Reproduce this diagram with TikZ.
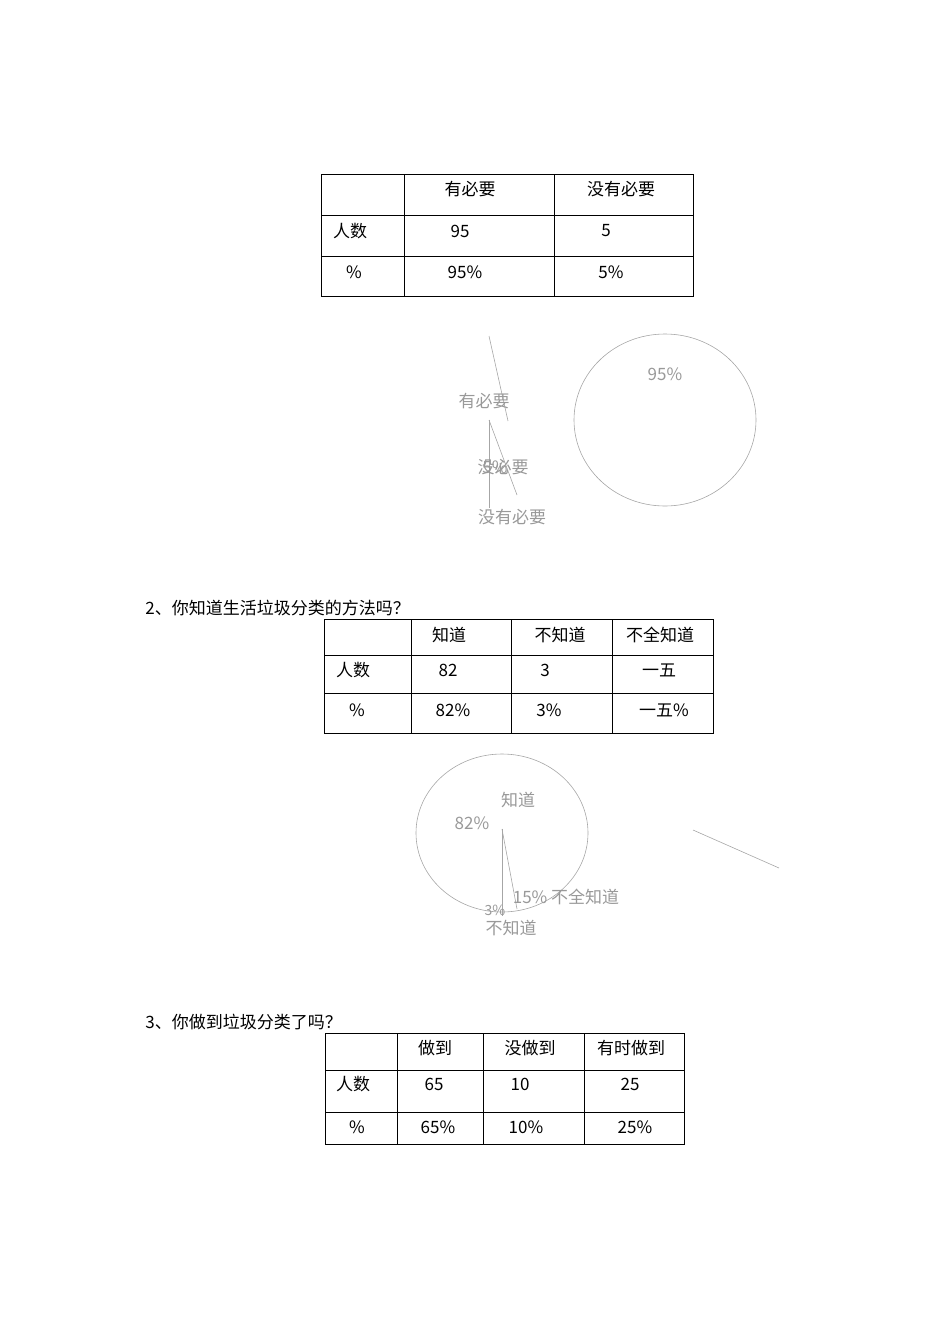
\documentclass[tikz,border=0pt]{standalone}
\usepackage{fontspec}
\newfontfamily\cjk{Noto Sans CJK SC}
\tikzset{t/.style={font=\cjk\fontsize{17}{17}\selectfont,inner sep=0pt},
g/.style={font=\cjk\fontsize{17}{17}\selectfont,inner sep=0pt,text=gray!80},
gl/.style={draw=gray!70,line width=0.6pt}}
\begin{document}
\begin{tikzpicture}[x=1pt,y=-1pt,line width=0.8pt]
\useasboundingbox (0,0) rectangle (950,1344);
% table 1
\draw (321,174) rectangle (693,296);
\foreach \x in {404,554} \draw (\x,174)--(\x,296);
\foreach \y in {215,256} \draw (321,\y)--(693,\y);
\node[t] (a1) at (470,189) {有必要};
\node[t] (a2) at (621,189) {没有必要};
\node[t] (a3) at (350,231) {人数};
\node[t] (a4) at (460,231) {95};
\node[t] (a5) at (606,231) {5};
\node[t] (a6) at (354,272) {\%};
\node[t] (a7) at (465,272) {95\%};
\node[t] (a8) at (611,272) {5\%};
% pie 1
\draw[gl] (665,420) ellipse (91 and 86);
\coordinate (p1) at (489,336); \coordinate (p2) at (508,421);
\coordinate (p3) at (489,420); \coordinate (p4) at (489,508); \coordinate (p5) at (517,495);
\draw[gl] (p1)--(p2); \draw[gl] (p3)--(p4); \draw[gl] (p3)--(p5);
\node[g] (b1) at (665,374) {95\%};
\node[g] (b2) at (484,401) {有必要};
\node[g] (b3) at (503,467) {没必要};
\node[g] (b4) at (495,467) {5\%};
\node[g] (b5) at (512,517) {没有必要};
% q2
\node[t,anchor=west] (q2) at (145,608) {2、你知道生活垃圾分类的方法吗？};
\draw (324,619) rectangle (713,733);
\foreach \x in {411,511,612} \draw (\x,619)--(\x,733);
\foreach \y in {655,693} \draw (324,\y)--(713,\y);
\node[t] (c1) at (449,635) {知道};
\node[t] (c2) at (560,635) {不知道};
\node[t] (c3) at (660,635) {不全知道};
\node[t] (c4) at (353,670) {人数};
\node[t] (c5) at (448,670) {82};
\node[t] (c6) at (545,670) {3};
\node[t] (c7) at (659,670) {一五};
\node[t] (c8) at (357,710) {\%};
\node[t] (c9) at (453,710) {82\%};
\node[t] (c10) at (549,710) {3\%};
\node[t] (c11) at (664,710) {一五\%};
% pie 2
\draw[gl] (502,833) ellipse (86 and 79);
\coordinate (r1) at (502,829); \coordinate (r2) at (502,916); \coordinate (r3) at (517,909);
\draw[gl] (r1)--(r2); \draw[gl] (r1)--(r3);
\coordinate (s1) at (693,830); \coordinate (s2) at (779,868);
\draw[gl] (s1)--(s2);
\node[g] (d1) at (518,800) {知道};
\node[g] (d2) at (472,823) {82\%};
\node[g] (d3) at (566,897) {15\%\ 不全知道};
\node[g,font=\cjk\fontsize{14}{14}\selectfont] (d4) at (495,910) {3\%};
\node[g] (d5) at (511,928) {不知道};
% q3
\node[t,anchor=west] (q3) at (145,1022) {3、你做到垃圾分类了吗？};
\draw (325,1033) rectangle (684,1144);
\foreach \x in {397,483,584} \draw (\x,1033)--(\x,1144);
\foreach \y in {1070,1112} \draw (325,\y)--(684,\y);
\node[t] (e1) at (435,1048) {做到};
\node[t] (e2) at (530,1048) {没做到};
\node[t] (e3) at (631,1048) {有时做到};
\node[t] (e4) at (353,1084) {人数};
\node[t] (e5) at (434,1084) {65};
\node[t] (e6) at (520,1084) {10};
\node[t] (e7) at (630,1084) {25};
\node[t] (e8) at (357,1127) {\%};
\node[t] (e9) at (438,1127) {65\%};
\node[t] (e10) at (526,1127) {10\%};
\node[t] (e11) at (635,1127) {25\%};
\end{tikzpicture}
\end{document}
